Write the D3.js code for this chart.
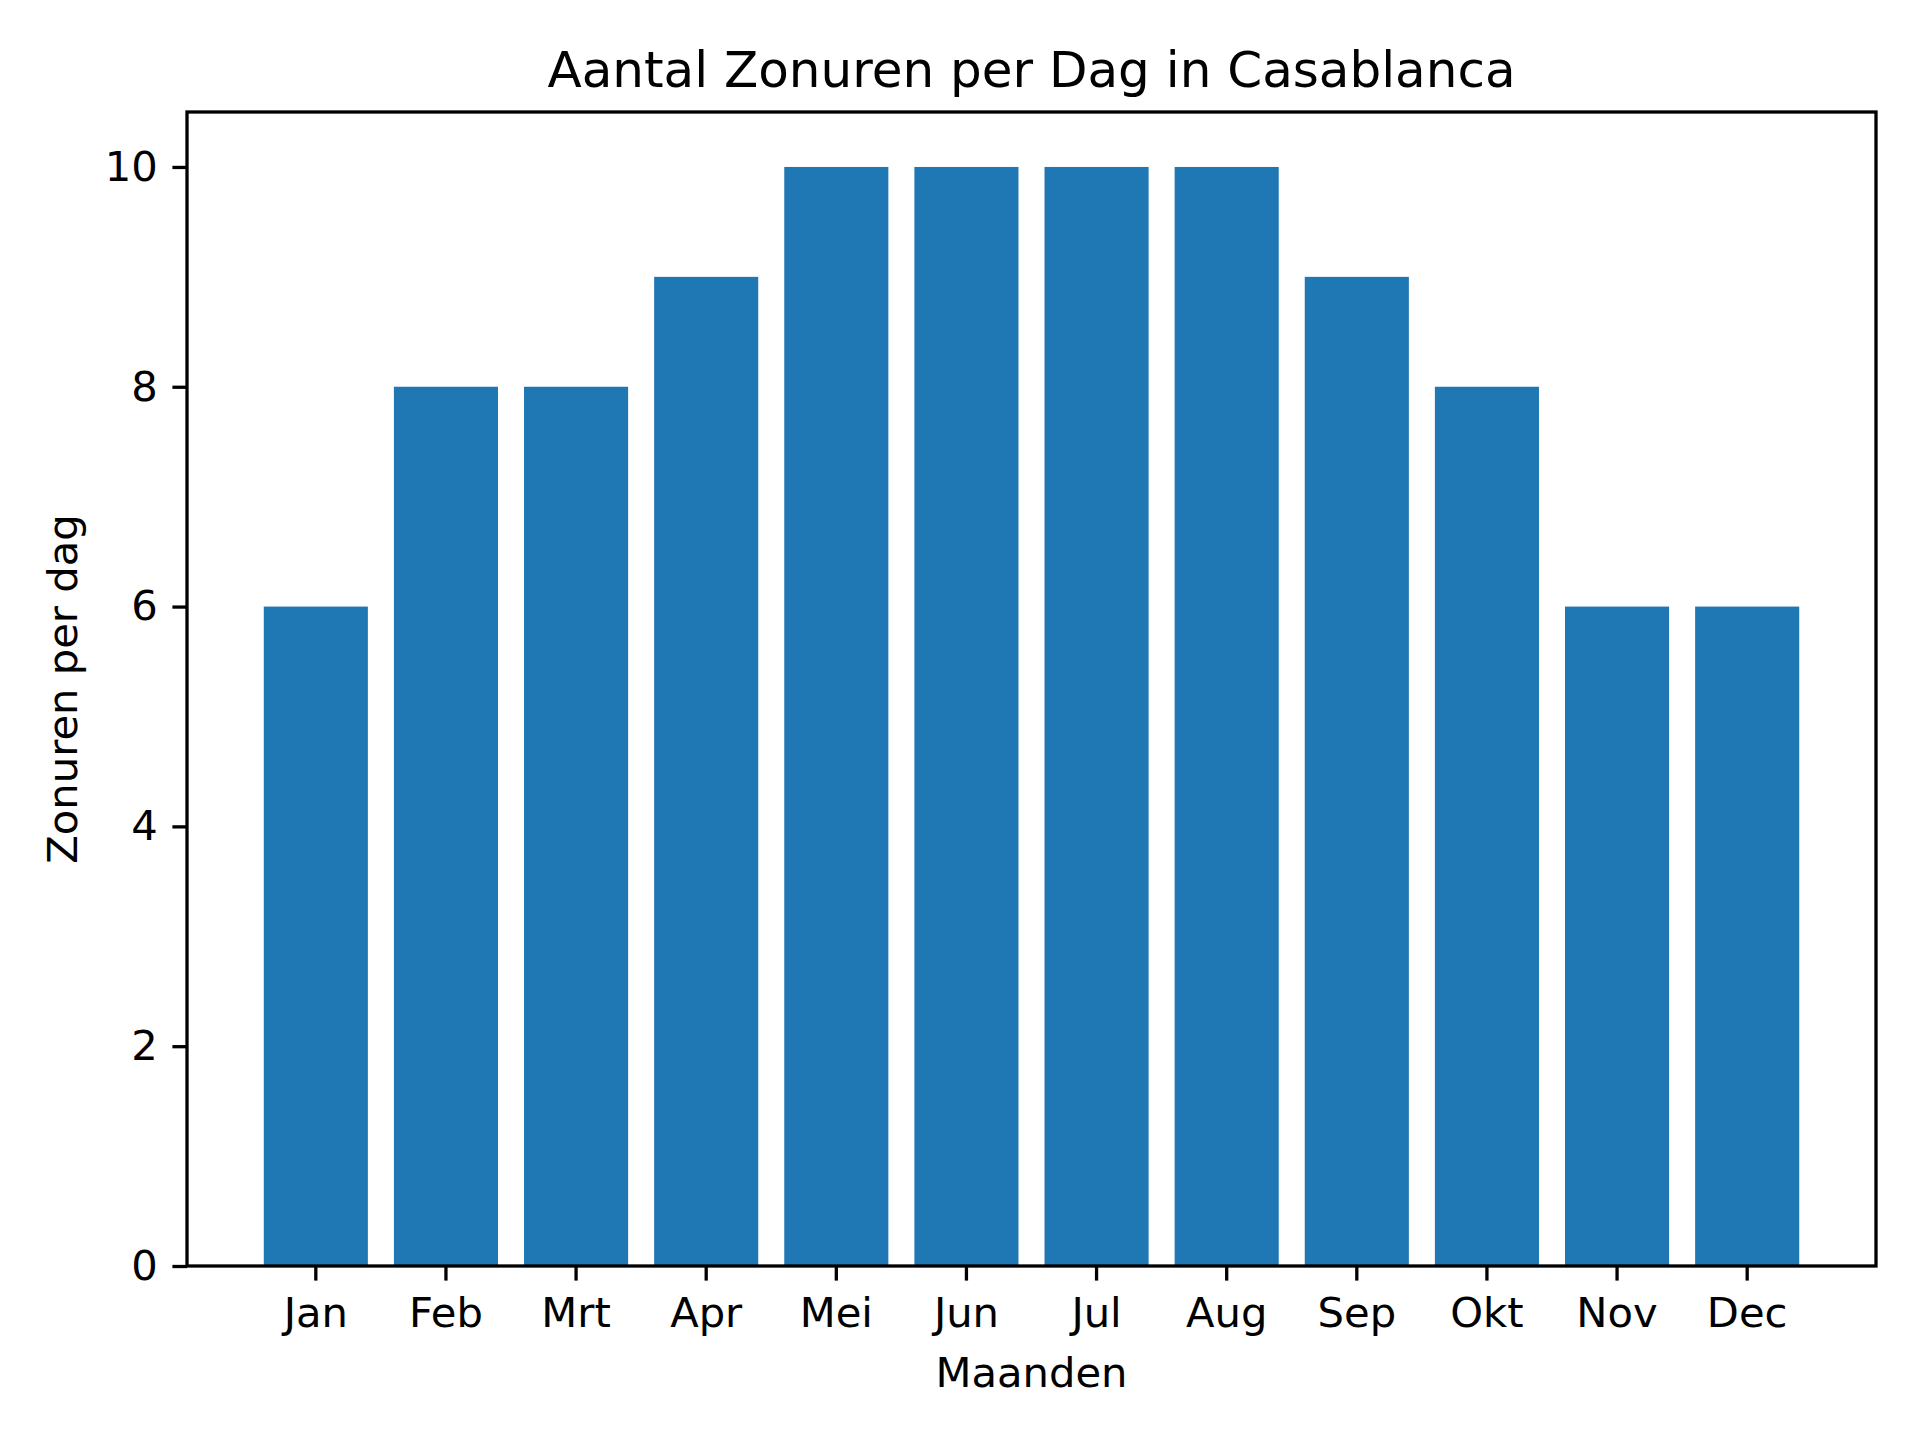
<!DOCTYPE html>
<html>
<head>
<meta charset="utf-8">
<script src="https://cdn.jsdelivr.net/npm/d3@7"></script>
<style>
  html, body { margin: 0; padding: 0; background: #ffffff; }
  svg { display: block; }
  text { font-family: "DejaVu Sans", sans-serif; fill: #000; }
</style>
</head>
<body>
<script>
const months = ["Jan", "Feb", "Mrt", "Apr", "Mei", "Jun", "Jul", "Aug", "Sep", "Okt", "Nov", "Dec"];
const sunHours = [6, 8, 8, 9, 10, 10, 10, 10, 9, 8, 6, 6];
const yTicks = [0, 2, 4, 6, 8, 10];
const titleText = "Aantal Zonuren per Dag in Casablanca";
const xLabelText = "Maanden";
const yLabelText = "Zonuren per dag";

const W = 1920, H = 1440;
const m = { left: 187, right: 1876, top: 112, bottom: 1266 };
const fs = 41.7;
const tickLen = 14.6;
const lw = 3.3;

const svg = d3.select("body").append("svg").attr("width", W).attr("height", H);

const x = d3.scaleBand().domain(months).range([m.left, m.right])
  .paddingInner(0.2).paddingOuter(0.59);
const y = d3.scaleLinear().domain([0, 10.5]).range([m.bottom, m.top]);

// bars
svg.append("g").selectAll("rect").data(sunHours).join("rect")
  .attr("x", (d, i) => x(months[i]))
  .attr("width", x.bandwidth())
  .attr("y", d => y(d))
  .attr("height", d => y(0) - y(d))
  .attr("fill", "#1f77b4");

// x axis
const xAxis = svg.append("g").attr("transform", `translate(0,${m.bottom})`)
  .call(d3.axisBottom(x).tickSize(tickLen).tickSizeOuter(0).tickPadding(16.8));
xAxis.select(".domain").remove();
xAxis.selectAll(".tick line").attr("stroke", "#000").attr("stroke-width", lw);
xAxis.selectAll(".tick text").attr("font-size", fs).attr("font-family", "DejaVu Sans");

// y axis
const yAxis = svg.append("g").attr("transform", `translate(${m.left},0)`)
  .call(d3.axisLeft(y).tickValues(yTicks).tickFormat(d3.format("d")).tickSize(tickLen).tickSizeOuter(0).tickPadding(14.6));
yAxis.select(".domain").remove();
yAxis.selectAll(".tick line").attr("stroke", "#000").attr("stroke-width", lw);
yAxis.selectAll(".tick text").attr("font-size", fs).attr("font-family", "DejaVu Sans");

// frame
svg.append("rect")
  .attr("x", m.left).attr("y", m.top)
  .attr("width", m.right - m.left).attr("height", m.bottom - m.top)
  .attr("fill", "none").attr("stroke", "#000").attr("stroke-width", lw)
  .attr("stroke-linejoin", "miter");

// title
svg.append("text")
  .attr("x", (m.left + m.right) / 2).attr("y", 87)
  .attr("text-anchor", "middle").attr("font-size", 50)
  .text(titleText);

// x label
svg.append("text")
  .attr("x", (m.left + m.right) / 2).attr("y", 1387)
  .attr("text-anchor", "middle").attr("font-size", fs)
  .text(xLabelText);

// y label
svg.append("text")
  .attr("transform", `translate(77,${(m.top + m.bottom) / 2}) rotate(-90)`)
  .attr("text-anchor", "middle").attr("font-size", fs)
  .text(yLabelText);
</script>
</body>
</html>
